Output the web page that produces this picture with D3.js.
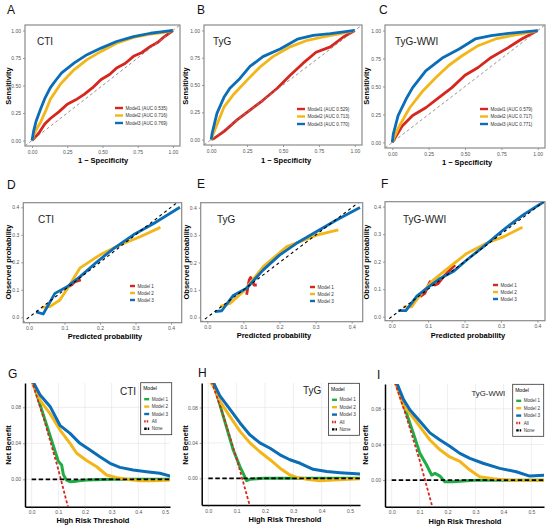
<!DOCTYPE html>
<html>
<head>
<meta charset="utf-8">
<script src="https://cdn.jsdelivr.net/npm/d3@7"></script>
<style>
  body { margin: 0; background: #fff; }
  text { font-family: "Liberation Sans", Arial, sans-serif; }
</style>
</head>
<body>
<svg id="chart" width="550" height="530"></svg>
<script>
// ---- data ----
var colRed = "#d7261e", colYel = "#f2b619", colBlu = "#0a6db5", colGrn = "#1fae45";

// ROC (fpr, tpr)
var rocA_m1 = [[0,0],[0.012,0.015],[0.05,0.07],[0.09,0.15],[0.13,0.2],[0.19,0.26],[0.25,0.33],[0.31,0.37],[0.37,0.42],[0.43,0.48],[0.49,0.555],[0.55,0.6],[0.6,0.66],[0.66,0.7],[0.72,0.765],[0.78,0.8],[0.84,0.855],[0.89,0.89],[0.94,0.945],[1,1]];
var rocA_m2 = [[0,0],[0.01,0.045],[0.03,0.1],[0.06,0.165],[0.1,0.28],[0.13,0.375],[0.2,0.51],[0.25,0.58],[0.3,0.645],[0.39,0.735],[0.49,0.81],[0.6,0.885],[0.72,0.937],[0.84,0.967],[0.93,0.98],[1,1]];
var rocA_m3 = [[0,0],[0.012,0.09],[0.03,0.18],[0.06,0.285],[0.09,0.38],[0.13,0.48],[0.17,0.55],[0.21,0.615],[0.3,0.705],[0.39,0.78],[0.49,0.84],[0.6,0.9],[0.72,0.945],[0.84,0.975],[0.93,0.99],[1,1]];

var rocB_m1 = [[0,0],[0.02,0.01],[0.09,0.075],[0.18,0.18],[0.27,0.27],[0.36,0.36],[0.46,0.47],[0.55,0.59],[0.64,0.7],[0.73,0.8],[0.83,0.85],[0.92,0.94],[1,1]];
var rocB_m2 = [[0,0],[0.007,0.03],[0.04,0.135],[0.09,0.3],[0.16,0.42],[0.25,0.545],[0.34,0.665],[0.43,0.76],[0.55,0.85],[0.67,0.91],[0.78,0.94],[0.9,0.97],[1,1]];
var rocB_m3 = [[0,0],[0.007,0.06],[0.04,0.24],[0.09,0.39],[0.13,0.47],[0.2,0.56],[0.27,0.67],[0.36,0.76],[0.48,0.83],[0.6,0.92],[0.71,0.955],[0.83,0.97],[1,1]];

var rocC_m1 = [[0,0],[0.007,0.015],[0.07,0.15],[0.14,0.24],[0.23,0.31],[0.32,0.4],[0.41,0.49],[0.5,0.6],[0.59,0.67],[0.68,0.76],[0.8,0.85],[0.89,0.925],[1,1]];
var rocC_m2 = [[0,0],[0.007,0.03],[0.05,0.15],[0.12,0.31],[0.21,0.46],[0.3,0.58],[0.39,0.69],[0.48,0.775],[0.59,0.865],[0.71,0.925],[0.82,0.955],[0.91,0.975],[1,1]];
var rocC_m3 = [[0,0],[0.007,0.075],[0.04,0.24],[0.1,0.4],[0.14,0.49],[0.23,0.64],[0.35,0.76],[0.46,0.835],[0.57,0.925],[0.68,0.955],[0.8,0.975],[1,1]];

var aucA = ["Model1 (AUC 0.535)", "Model2 (AUC 0.716)", "Model3 (AUC 0.769)"];
var aucB = ["Model1 (AUC 0.529)", "Model2 (AUC 0.713)", "Model3 (AUC 0.770)"];
var aucC = ["Model1 (AUC 0.579)", "Model2 (AUC 0.717)", "Model3 (AUC 0.771)"];

// calibration (predicted, observed)
var calD_m1 = [[0.101,0.093],[0.111,0.111],[0.12,0.118],[0.13,0.13],[0.146,0.136]];
var calD_m2 = [[0.036,0.036],[0.059,0.039],[0.087,0.063],[0.106,0.1],[0.144,0.18],[0.2,0.227],[0.256,0.263],[0.313,0.293],[0.37,0.327]];
var calD_m3 = [[0.02,0.02],[0.04,0.012],[0.073,0.087],[0.106,0.11],[0.144,0.148],[0.19,0.2],[0.238,0.25],[0.294,0.3],[0.35,0.34],[0.425,0.4]];

var calE_m1 = [[0.109,0.082],[0.112,0.106],[0.116,0.136],[0.12,0.145],[0.125,0.136],[0.129,0.118],[0.137,0.118]];
var calE_m2 = [[0.035,0.039],[0.063,0.051],[0.1,0.094],[0.155,0.185],[0.22,0.258],[0.257,0.276],[0.303,0.3],[0.363,0.319]];
var calE_m3 = [[0.021,0.021],[0.04,0.024],[0.072,0.08],[0.109,0.106],[0.155,0.173],[0.2,0.227],[0.247,0.27],[0.303,0.313],[0.358,0.355],[0.423,0.401]];

var calF_m1 = [[0.078,0.073],[0.091,0.085],[0.105,0.127],[0.119,0.115],[0.128,0.121],[0.142,0.145],[0.16,0.17],[0.174,0.188]];
var calF_m2 = [[0.032,0.036],[0.055,0.036],[0.078,0.079],[0.114,0.133],[0.16,0.182],[0.206,0.23],[0.26,0.267],[0.306,0.29],[0.359,0.325]];
var calF_m3 = [[0.018,0.022],[0.039,0.022],[0.069,0.075],[0.096,0.103],[0.133,0.139],[0.169,0.164],[0.206,0.206],[0.252,0.255],[0.306,0.315],[0.361,0.37],[0.418,0.418]];

var calLabels = ["Model 1", "Model 2", "Model 3"];

// decision curves (threshold, net benefit)
var dcaG_m1 = [[0,0.112],[0.05,0.066],[0.1,0.02],[0.1125,0.016],[0.119,0.005],[0.131,-0.001],[0.144,-0.0026],[0.169,-0.002],[0.206,-0.0007],[0.3,0],[0.52,0]];
var dcaG_m2 = [[0,0.11],[0.006,0.105],[0.031,0.088],[0.069,0.073],[0.106,0.055],[0.144,0.04],[0.169,0.029],[0.206,0.021],[0.244,0.014],[0.281,0.0048],[0.319,0.0019],[0.356,0],[0.406,-0.0015],[0.456,-0.0015],[0.52,-0.0007]];
var dcaG_m3 = [[0,0.112],[0.006,0.108],[0.031,0.094],[0.069,0.081],[0.106,0.06],[0.144,0.051],[0.181,0.04],[0.219,0.0326],[0.256,0.025],[0.294,0.0178],[0.331,0.0133],[0.381,0.0104],[0.431,0.0085],[0.481,0.0067],[0.52,0.0037]];
var dcaG_all = [[0,0.11],[0.05,0.063],[0.1,0.011],[0.14,-0.035]];

var dcaH_m1 = [[0,0.12],[0.018,0.108],[0.053,0.07],[0.088,0.032],[0.112,0.013],[0.124,0.005],[0.135,-0.0027],[0.147,-0.0011],[0.194,0],[0.54,0]];
var dcaH_m2 = [[0,0.112],[0.018,0.104],[0.041,0.087],[0.076,0.07],[0.112,0.053],[0.147,0.04],[0.182,0.03],[0.218,0.021],[0.253,0.0114],[0.288,0.0038],[0.312,0.0011],[0.347,-0.001],[0.394,-0.0027],[0.441,-0.002],[0.54,-0.0004]];
var dcaH_m3 = [[0,0.116],[0.018,0.108],[0.041,0.093],[0.076,0.078],[0.112,0.0625],[0.147,0.049],[0.182,0.04],[0.218,0.034],[0.253,0.0265],[0.288,0.021],[0.324,0.017],[0.37,0.0102],[0.418,0.0076],[0.465,0.0064],[0.54,0.0049]];
var dcaH_all = [[0,0.12],[0.05,0.0737],[0.1,0.0222],[0.145,-0.0293]];

var dcaI_m1 = [[0,0.118],[0.018,0.109],[0.042,0.085],[0.077,0.053],[0.101,0.03],[0.125,0.017],[0.143,0.0057],[0.155,0.0075],[0.173,0.0045],[0.19,-0.0019],[0.22,-0.0019],[0.268,-0.0008],[0.315,0],[0.55,0]];
var dcaI_m2 = [[0,0.115],[0.018,0.106],[0.042,0.083],[0.065,0.075],[0.101,0.06],[0.137,0.045],[0.173,0.034],[0.208,0.026],[0.244,0.021],[0.28,0.0113],[0.315,0.0038],[0.363,0.0015],[0.423,0],[0.55,0]];
var dcaI_m3 = [[0,0.118],[0.018,0.109],[0.042,0.0906],[0.065,0.079],[0.101,0.066],[0.137,0.053],[0.173,0.045],[0.208,0.038],[0.244,0.03],[0.28,0.0245],[0.327,0.0189],[0.387,0.0132],[0.446,0.0094],[0.494,0.0045],[0.55,0.0057]];
var dcaI_all = [[0,0.12],[0.05,0.0737],[0.1,0.0222],[0.145,-0.0293]];

var dcaLabels = ["Model 1", "Model 2", "Model 3", "All", "None"];

var rocTicks = [0, 0.25, 0.5, 0.75, 1];
var calTicks = [0, 0.1, 0.2, 0.3, 0.4];
var dcaXTicks = [0, 0.1, 0.2, 0.3, 0.4, 0.5];
var dcaYTicks = [0, 0.04, 0.08];

// ---- drawing ----
var svg = d3.select("#chart");
var clipId = 0;

function panel(cfg) {
  var x = d3.scaleLinear().domain(cfg.xd).range([cfg.box[0], cfg.box[1]]);
  var y = d3.scaleLinear().domain(cfg.yd).range([cfg.box[3], cfg.box[2]]);
  var g = svg.append("g");
  var id = "clip" + (clipId++);
  svg.append("clipPath").attr("id", id).append("rect")
    .attr("x", cfg.box[0]).attr("y", cfg.box[2])
    .attr("width", cfg.box[1] - cfg.box[0]).attr("height", cfg.box[3] - cfg.box[2]);

  if (cfg.grid) {
    g.selectAll(".gx").data(cfg.xt).enter().append("line")
      .attr("x1", function(d) { return x(d); }).attr("x2", function(d) { return x(d); })
      .attr("y1", cfg.box[2]).attr("y2", cfg.box[3])
      .attr("stroke", "#e6e6e6").attr("stroke-width", 0.7);
    g.selectAll(".gy").data(cfg.yt).enter().append("line")
      .attr("y1", function(d) { return y(d); }).attr("y2", function(d) { return y(d); })
      .attr("x1", cfg.box[0]).attr("x2", cfg.box[1])
      .attr("stroke", "#e6e6e6").attr("stroke-width", 0.7);
  }

  var xa = g.append("g").attr("transform", "translate(0," + cfg.box[3] + ")")
    .call(d3.axisBottom(x).tickValues(cfg.xt).tickFormat(d3.format(cfg.xf)).tickSize(2).tickSizeOuter(0).tickPadding(2));
  var ya = g.append("g").attr("transform", "translate(" + cfg.box[0] + ",0)")
    .call(d3.axisLeft(y).tickValues(cfg.yt).tickFormat(d3.format(cfg.yf)).tickSize(2).tickSizeOuter(0).tickPadding(2));
  [xa, ya].forEach(function(a) {
    a.selectAll("text").attr("font-size", 5).attr("fill", "#555").style("font-family", "'Liberation Sans', Arial, sans-serif");
    a.selectAll(".tick line").attr("stroke", "#555").attr("stroke-width", 0.6);
    if (cfg.grid) a.select(".domain").attr("stroke", "#000").attr("stroke-width", 1.5);
    else a.select(".domain").remove();
  });

  var plot = g.append("g").attr("clip-path", "url(#" + id + ")");
  var line = d3.line().x(function(d) { return x(d[0]); }).y(function(d) { return y(d[1]); });

  cfg.series.forEach(function(s) {
    plot.append("path").datum(s.data).attr("d", line)
      .attr("fill", "none").attr("stroke", s.color).attr("stroke-width", s.w || 2.8)
      .attr("stroke-dasharray", s.dash || null).attr("stroke-linejoin", "round");
  });

  if (!cfg.grid) {
    g.append("rect").attr("x", cfg.box[0]).attr("y", cfg.box[2])
      .attr("width", cfg.box[1] - cfg.box[0]).attr("height", cfg.box[3] - cfg.box[2])
      .attr("fill", "none").attr("stroke", "#8a8a8a").attr("stroke-width", 1.2);
  }

  // titles
  g.append("text").attr("x", cfg.letter[0]).attr("y", cfg.letter[1])
    .attr("font-size", 12).attr("fill", "#111").text(cfg.letter[2]);
  g.append("text").attr("x", cfg.tag[0]).attr("y", cfg.tag[1])
    .attr("font-size", cfg.tag[3] || 10).attr("fill", "#222").text(cfg.tag[2]);
  g.append("text").attr("x", cfg.xlab[0]).attr("y", cfg.xlab[1])
    .attr("text-anchor", "middle").attr("font-size", 7.5).attr("font-weight", "bold").text(cfg.xlab[2]);
  g.append("text").attr("transform", "translate(" + cfg.ylab[0] + "," + cfg.ylab[1] + ") rotate(-90)")
    .attr("text-anchor", "middle").attr("font-size", 7.5).attr("font-weight", "bold").text(cfg.ylab[2]);

  // legend
  var L = cfg.legend;
  var lg = g.append("g");
  if (L.box) {
    lg.append("rect").attr("x", L.box[0]).attr("y", L.box[1])
      .attr("width", L.box[2]).attr("height", L.box[3])
      .attr("fill", "#fff").attr("stroke", "#333").attr("stroke-width", 0.8);
    lg.append("text").attr("x", L.box[0] + 2.5).attr("y", L.box[1] + 7.5)
      .attr("font-size", 5).text("Model");
  }
  L.items.forEach(function(it, i) {
    var yy = L.y0 + i * L.dy;
    lg.append("line").attr("x1", L.x).attr("x2", L.x + L.len).attr("y1", yy).attr("y2", yy)
      .attr("stroke", it.color).attr("stroke-width", 2.4).attr("stroke-dasharray", it.dash || null);
    lg.append("text").attr("x", L.x + L.len + 2.5).attr("y", yy + 1.6)
      .attr("font-size", 4.6).attr("fill", "#333").text(it.label);
  });
}

function rocSeries(m1, m2, m3) {
  return [
    { data: m1, color: colRed },
    { data: m2, color: colYel },
    { data: m3, color: colBlu },
    { data: [[-0.05, -0.05], [1.05, 1.05]], color: "#888", w: 0.9, dash: "3,2.5" }
  ];
}
function calSeries(m1, m2, m3) {
  return [
    { data: m1, color: colRed },
    { data: m2, color: colYel },
    { data: m3, color: colBlu },
    { data: [[-0.02, -0.02], [0.44, 0.44]], color: "#000", w: 1.1, dash: "3,3" }
  ];
}
function dcaSeries(m1, m2, m3, all) {
  return [
    { data: m1, color: colGrn, w: 3 },
    { data: m2, color: colYel, w: 3 },
    { data: m3, color: colBlu, w: 3 },
    { data: all, color: colRed, w: 1.8, dash: "3,2" },
    { data: [[0, 0], [0.56, 0]], color: "#000", w: 1.8, dash: "4.5,2.5" }
  ];
}
function rocLegend(labels, x, y0) {
  return { x: x, len: 8, y0: y0, dy: 7.5, items: [
    { color: colRed, label: labels[0] }, { color: colYel, label: labels[1] }, { color: colBlu, label: labels[2] }] };
}
function calLegend(x, y0) {
  return { x: x, len: 5, y0: y0, dy: 7, items: [
    { color: colRed, label: calLabels[0] }, { color: colYel, label: calLabels[1] }, { color: colBlu, label: calLabels[2] }] };
}
function dcaLegend(bx, by) {
  return { box: [bx, by, 31, 52], x: bx + 3.5, len: 5, y0: by + 16.5, dy: 7.4, items: [
    { color: colGrn, label: dcaLabels[0] }, { color: colYel, label: dcaLabels[1] }, { color: colBlu, label: dcaLabels[2] },
    { color: colRed, label: dcaLabels[3], dash: "1.5,1" }, { color: "#000", label: dcaLabels[4], dash: "2.5,1" }] };
}

var rocD = [-0.05, 1.05];

// row 1: ROC
panel({ box: [25, 180, 25, 146], xd: rocD, yd: rocD, xt: rocTicks, yt: rocTicks, xf: ".2f", yf: ".2f",
  series: rocSeries(rocA_m1, rocA_m2, rocA_m3), letter: [7, 14, "A"], tag: [37, 45, "CTI"],
  xlab: [103, 163, "1 \u2212 Specificity"], ylab: [11, 86, "Sensitivity"], legend: rocLegend(aucA, 115, 108) });
panel({ box: [204, 362, 25, 145], xd: rocD, yd: rocD, xt: rocTicks, yt: rocTicks, xf: ".2f", yf: ".2f",
  series: rocSeries(rocB_m1, rocB_m2, rocB_m3), letter: [197, 14, "B"], tag: [213, 45, "TyG"],
  xlab: [286, 163, "1 \u2212 Specificity"], ylab: [188, 86, "Sensitivity"], legend: rocLegend(aucB, 297, 109) });
panel({ box: [385, 545, 25, 148], xd: rocD, yd: rocD, xt: rocTicks, yt: rocTicks, xf: ".2f", yf: ".2f",
  series: rocSeries(rocC_m1, rocC_m2, rocC_m3), letter: [379, 14, "C"], tag: [395, 45, "TyG-WWI"],
  xlab: [467, 165, "1 \u2212 Specificity"], ylab: [369, 86, "Sensitivity"], legend: rocLegend(aucC, 480, 109) });

// row 2: calibration
panel({ box: [23.3, 181.7, 202.7, 322.7], xd: [-0.016, 0.43], yd: [-0.0196, 0.4167], xt: calTicks, yt: calTicks, xf: ".1f", yf: ".1f",
  series: calSeries(calD_m1, calD_m2, calD_m3), letter: [7, 189, "D"], tag: [38, 223, "CTI"],
  xlab: [105, 339, "Predicted probability"], ylab: [11, 262, "Observed probability"], legend: calLegend(130, 286) });
panel({ box: [200.7, 362.7, 202.7, 321.7], xd: [-0.0183, 0.4305], yd: [-0.016, 0.4182], xt: calTicks, yt: calTicks, xf: ".1f", yf: ".1f",
  series: calSeries(calE_m1, calE_m2, calE_m3), letter: [197, 188, "E"], tag: [217, 223, "TyG"],
  xlab: [274, 338, "Predicted probability"], ylab: [189, 262, "Observed probability"], legend: calLegend(310, 287) });
panel({ box: [385, 545, 201.7, 320.7], xd: [-0.0184, 0.421], yd: [-0.0145, 0.418], xt: calTicks, yt: calTicks, xf: ".1f", yf: ".1f",
  series: calSeries(calF_m1, calF_m2, calF_m3), letter: [381, 188, "F"], tag: [403, 223, "TyG-WWI"],
  xlab: [468, 338, "Predicted probability"], ylab: [369, 262, "Observed probability"], legend: calLegend(493, 285) });

// row 3: decision curves
panel({ box: [25, 170, 383, 506.7], xd: [-0.025, 0.519], yd: [-0.0304, 0.107], xt: dcaXTicks, yt: dcaYTicks, xf: ".1f", yf: ".2f", grid: true,
  series: dcaSeries(dcaG_m1, dcaG_m2, dcaG_m3, dcaG_all), letter: [8, 378, "G"], tag: [120, 395, "CTI"],
  xlab: [93, 523, "High Risk Threshold"], ylab: [11, 445, "Net Benefit"], legend: dcaLegend(140.7, 382.7) });
panel({ box: [201.7, 360, 383, 505], xd: [-0.0233, 0.5353], yd: [-0.0301, 0.1076], xt: dcaXTicks, yt: dcaYTicks, xf: ".1f", yf: ".2f", grid: true,
  series: dcaSeries(dcaH_m1, dcaH_m2, dcaH_m3, dcaH_all), letter: [198, 377, "H"], tag: [303, 394, "TyG"],
  xlab: [285, 522, "High Risk Threshold"], ylab: [188, 445, "Net Benefit"], legend: dcaLegend(328.5, 383.3) });
panel({ box: [385, 544, 384, 506.7], xd: [-0.024, 0.5453], yd: [-0.0298, 0.1078], xt: dcaXTicks, yt: dcaYTicks, xf: ".1f", yf: ".2f", grid: true,
  series: dcaSeries(dcaI_m1, dcaI_m2, dcaI_m3, dcaI_all), letter: [377, 379, "I"], tag: [471.5, 396, "TyG-WWI", 7.8],
  xlab: [465, 524, "High Risk Threshold"], ylab: [368, 445, "Net Benefit"], legend: dcaLegend(512.7, 384.3) });
</script>
</body>
</html>
